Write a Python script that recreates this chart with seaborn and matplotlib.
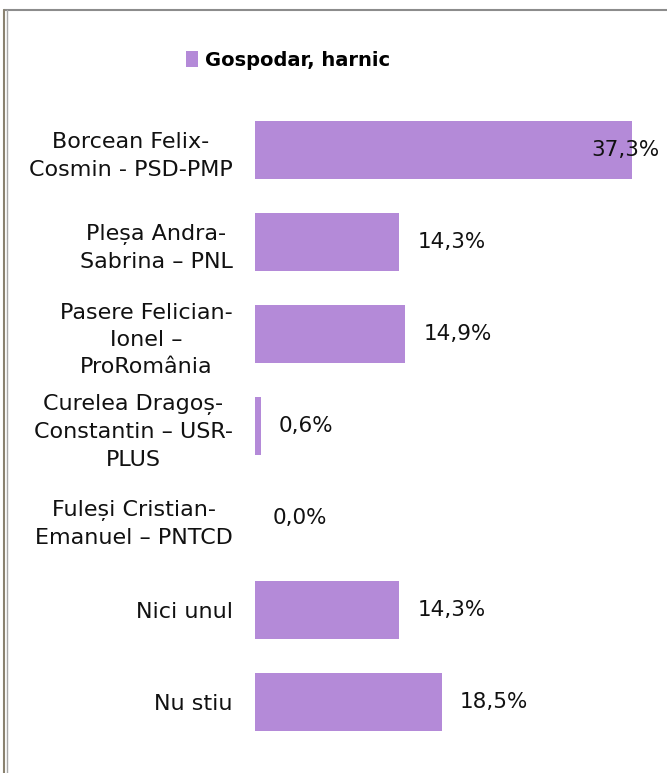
import matplotlib
matplotlib.use("Agg")
import matplotlib.pyplot as plt
import seaborn as sns
import pandas as pd
from matplotlib.lines import Line2D
from matplotlib.patches import Patch

categories = [
    "Borcean Felix-\nCosmin - PSD-PMP",
    "Pleșa Andra-\nSabrina – PNL",
    "Pasere Felician-\nIonel –\nProRomânia",
    "Curelea Dragoș-\nConstantin – USR-\nPLUS",
    "Fuleși Cristian-\nEmanuel – PNTCD",
    "Nici unul",
    "Nu stiu",
]
values = [37.3, 14.3, 14.9, 0.6, 0.0, 14.3, 18.5]
series_name = "Gospodar, harnic"
bar_color = "#B48AD8"

sns.set_theme(style="white")
plt.rcParams["font.family"] = ["DejaVu Sans"]

df = pd.DataFrame({"cat": categories, "val": values})

fig = plt.figure(figsize=(6.67, 7.73), dpi=100)
ax = fig.add_axes([0.382, 0.032, 0.606, 0.833])
sns.barplot(data=df, x="val", y="cat", color=bar_color, width=0.63,
            saturation=1, ax=ax, edgecolor="none")
ax.set_xlim(0, 40)
ax.set_xlabel("")
ax.set_ylabel("")
ax.set_xticks([])
for s in ax.spines.values():
    s.set_visible(False)
ax.tick_params(axis="y", length=0, pad=16)
for lbl in ax.get_yticklabels():
    lbl.set_fontsize(16)
    lbl.set_color("#111111")
    lbl.set_multialignment("center")
    lbl.set_linespacing(1.45)

for i, v in enumerate(values):
    x = min(v + 1.8, 33.3)
    ax.text(x, i, f"{v:.1f}%".replace(".", ","), va="center", ha="left",
            fontsize=15.5, color="#111111")

# legend
leg = fig.legend(handles=[Patch(facecolor=bar_color, edgecolor="none", label=series_name)],
                 loc="center", bbox_to_anchor=(0.432, 0.922), frameon=False,
                 prop={"weight": "bold", "size": 14}, handlelength=0.65,
                 handleheight=0.85, handletextpad=0.35, labelcolor="black")

# frame lines
fig.add_artist(Line2D([0.006, 1.0], [1 - 10 / 773, 1 - 10 / 773], color="#8c8c8c", lw=1.5))
fig.add_artist(Line2D([0.006, 0.006], [0, 1 - 10 / 773], color="#8a8270", lw=1.5))
fig.add_artist(Line2D([0.0105, 0.0105], [0, 1 - 10 / 773], color="#a8a8a8", lw=1.0))

fig.savefig("out.png", dpi=100)
